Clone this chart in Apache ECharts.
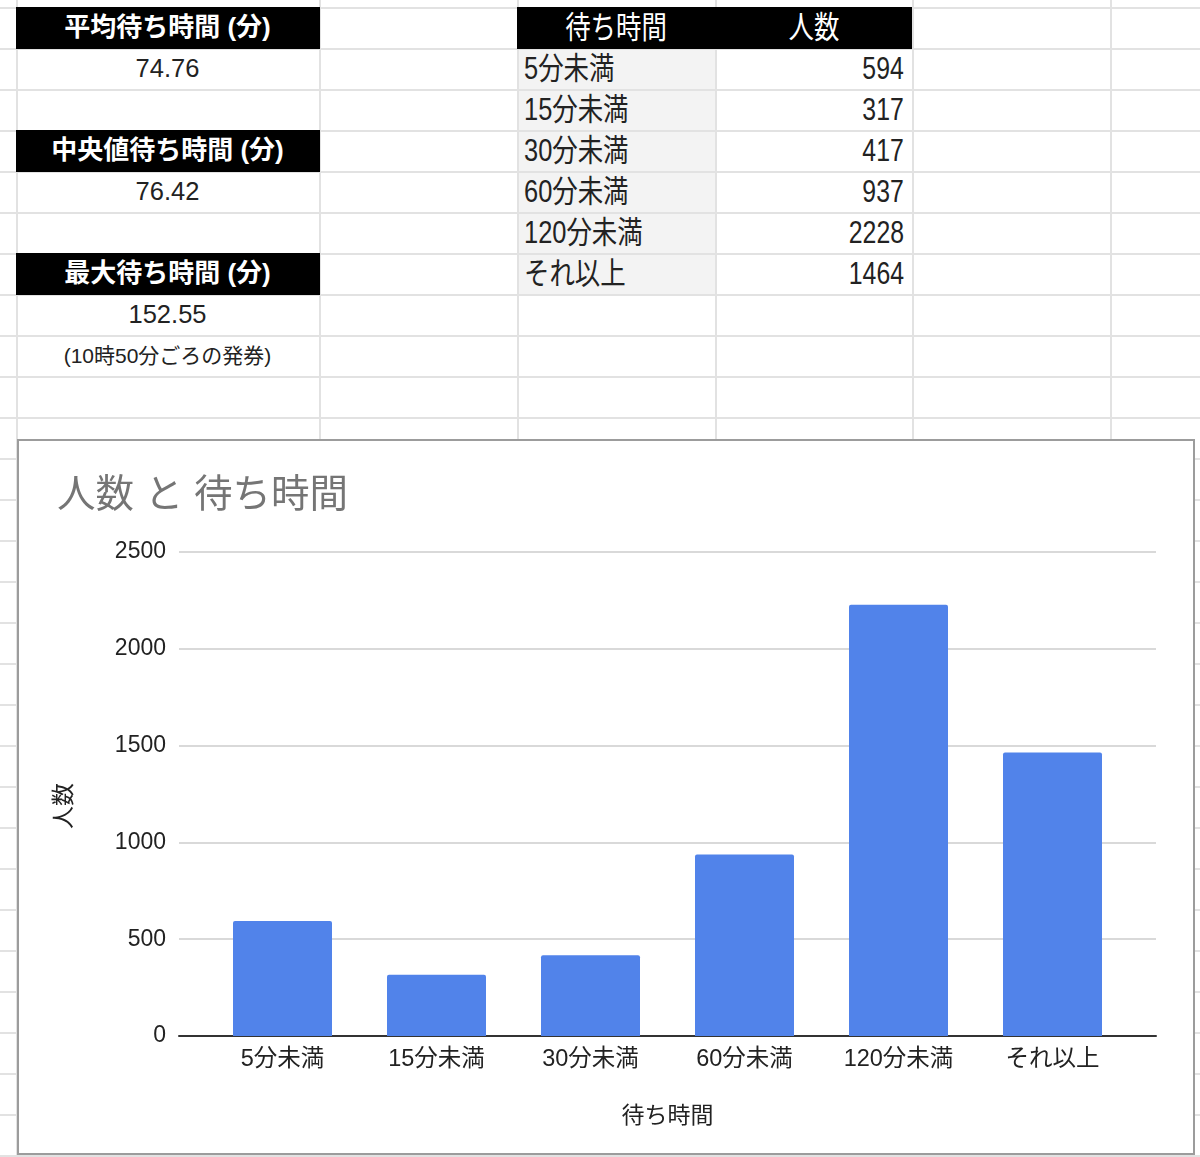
<!DOCTYPE html>
<html>
<head>
<meta charset="utf-8">
<script src="https://cdn.jsdelivr.net/npm/echarts@6/dist/echarts.min.js"></script>
<style>
  html, body { margin:0; padding:0; background:#fff; }
  body { width:1200px; height:1157px; position:relative; overflow:hidden;
         font-family:"Liberation Sans","Noto Sans CJK JP",sans-serif; }
  .abs { position:absolute; }
  .txt { position:absolute; white-space:nowrap; line-height:41px; height:41px; }
  .sq { display:inline-block; }
  #chartBox { position:absolute; left:17px; top:439px; width:1178px; height:716px;
              box-sizing:border-box; border:2px solid #9c9c9c; background:#fff; z-index:1; }
  #chart { position:absolute; left:0; top:0; width:1200px; height:1157px; z-index:2; }
</style>
</head>
<body>
<div id="sheet"></div>
<div id="chartBox"></div>
<div id="chart"></div>
<script>
// ---- data ----
const statLabels = ['平均待ち時間 (分)', '中央値待ち時間 (分)', '最大待ち時間 (分)'];
const statValues = ['74.76', '76.42', '152.55'];
const statNote = '(10時50分ごろの発券)';
const tableHeaders = ['待ち時間', '人数'];
const categories = ['5分未満', '15分未満', '30分未満', '60分未満', '120分未満', 'それ以上'];
const counts = [594, 317, 417, 937, 2228, 1464];
const chartTitle = '人数 と 待ち時間';
const xAxisName = '待ち時間';
const yAxisName = '人数';

// ---- spreadsheet backdrop ----
const sheet = document.getElementById('sheet');
const colX = [16, 319, 517, 715, 912, 1110];
const rowY0 = 7, rowH = 41;
function box(l, t, w, h, bg) {
  const d = document.createElement('div');
  d.className = 'abs';
  d.style.cssText = `left:${l}px;top:${t}px;width:${w}px;height:${h}px;background:${bg}`;
  sheet.appendChild(d); return d;
}
function text(str, l, t, w, align, css, scale) {
  const d = document.createElement('div');
  d.className = 'txt';
  d.style.cssText = `left:${l}px;top:${t}px;width:${w}px;text-align:${align};` + css;
  const s = document.createElement('span');
  s.className = 'sq';
  s.textContent = str;
  if (scale) {
    s.style.transform = `scaleX(${scale})`;
    s.style.transformOrigin = align === 'left' ? 'left center' : (align === 'right' ? 'right center' : 'center center');
  }
  d.appendChild(s);
  sheet.appendChild(d);
}
const ry = i => rowY0 + rowH * i;
// grey label cells
box(colX[2], ry(1), colX[3] - colX[2], rowH * categories.length, '#f3f3f3');
// grid lines
for (const x of colX) box(x, 0, 2, 1157, '#e2e2e2');
for (let y = rowY0; y < 1157; y += rowH) box(0, y, 1200, 2, '#e2e2e2');
// black headers
[0, 3, 6].forEach(r => box(colX[0], ry(r), colX[1] - colX[0] + 1, rowH + 1, '#000'));
box(colX[2], ry(0), colX[4] - colX[2], rowH + 1, '#000');

// left stats
const cw = colX[1] - colX[0];
statLabels.forEach((lab, i) => {
  text(lab, colX[0], ry(i * 3), cw, 'center', 'color:#fff;font-weight:bold;font-size:26px;');
  text(statValues[i], colX[0], ry(i * 3 + 1), cw, 'center', 'color:#222;font-size:25.5px;');
});
text(statNote, colX[0], ry(8), cw, 'center', 'color:#222;font-size:21px;');

// right table
text(tableHeaders[0], colX[2], ry(0), colX[3] - colX[2], 'center', 'color:#fff;font-size:31px;', 0.82);
text(tableHeaders[1], colX[3], ry(0), colX[4] - colX[3], 'center', 'color:#fff;font-size:31px;', 0.82);
categories.forEach((c, i) => {
  text(c, colX[2] + 7, ry(i + 1), colX[3] - colX[2] - 7, 'left', 'color:#222;font-size:31px;', 0.82);
  text(String(counts[i]), colX[3], ry(i + 1), colX[4] - colX[3] - 8, 'right', 'color:#222;font-size:31px;', 0.8);
});

// ---- chart ----
const FONT = '"Liberation Sans","Noto Sans CJK JP",sans-serif';
const chart = echarts.init(document.getElementById('chart'), null, { renderer: 'canvas' });
chart.setOption({
  animation: false,
  textStyle: { fontFamily: FONT },
  title: {
    text: chartTitle, left: 57, top: 477, padding: 0,
    textStyle: { fontSize: 38.5, fontWeight: 'normal', color: '#757575', fontFamily: FONT }
  },
  grid: [
    { left: 179, right: 44, top: 552, bottom: 121 },
    { left: 205.5, width: 924, top: 552, bottom: 121 }
  ],
  xAxis: [
    {
      gridIndex: 0, type: 'category', data: categories,
      axisLine: { lineStyle: { color: '#333', width: 2 } },
      axisTick: { show: false }, axisLabel: { show: false },
      name: xAxisName, nameLocation: 'middle', nameGap: 69,
      nameTextStyle: { fontSize: 23, color: '#222', fontFamily: FONT }
    },
    {
      gridIndex: 1, type: 'category', data: categories,
      axisLine: { show: false }, axisTick: { show: false },
      axisLabel: { fontSize: 23.5, color: '#222', margin: 12, fontFamily: FONT }
    }
  ],
  yAxis: [
    {
      gridIndex: 0, type: 'value', min: 0, max: 2500, interval: 500,
      axisLine: { show: false }, axisTick: { show: false },
      axisLabel: { fontSize: 23, color: '#222', margin: 13, fontFamily: FONT,
                   formatter: v => String(v) },
      splitLine: { lineStyle: { color: '#cccccc', width: 1.5 } },
      name: yAxisName, nameLocation: 'middle', nameGap: 103, nameRotate: 90,
      nameTextStyle: { fontSize: 23, color: '#222', fontFamily: FONT, padding: [0, 24, 0, 0] }
    },
    { gridIndex: 1, type: 'value', min: 0, max: 2500, interval: 500, show: false }
  ],
  series: [{
    type: 'bar', xAxisIndex: 1, yAxisIndex: 1, data: counts, barWidth: 99,
    itemStyle: { color: '#5183ea', borderRadius: [2, 2, 0, 0] }
  }]
});
</script>
</body>
</html>
